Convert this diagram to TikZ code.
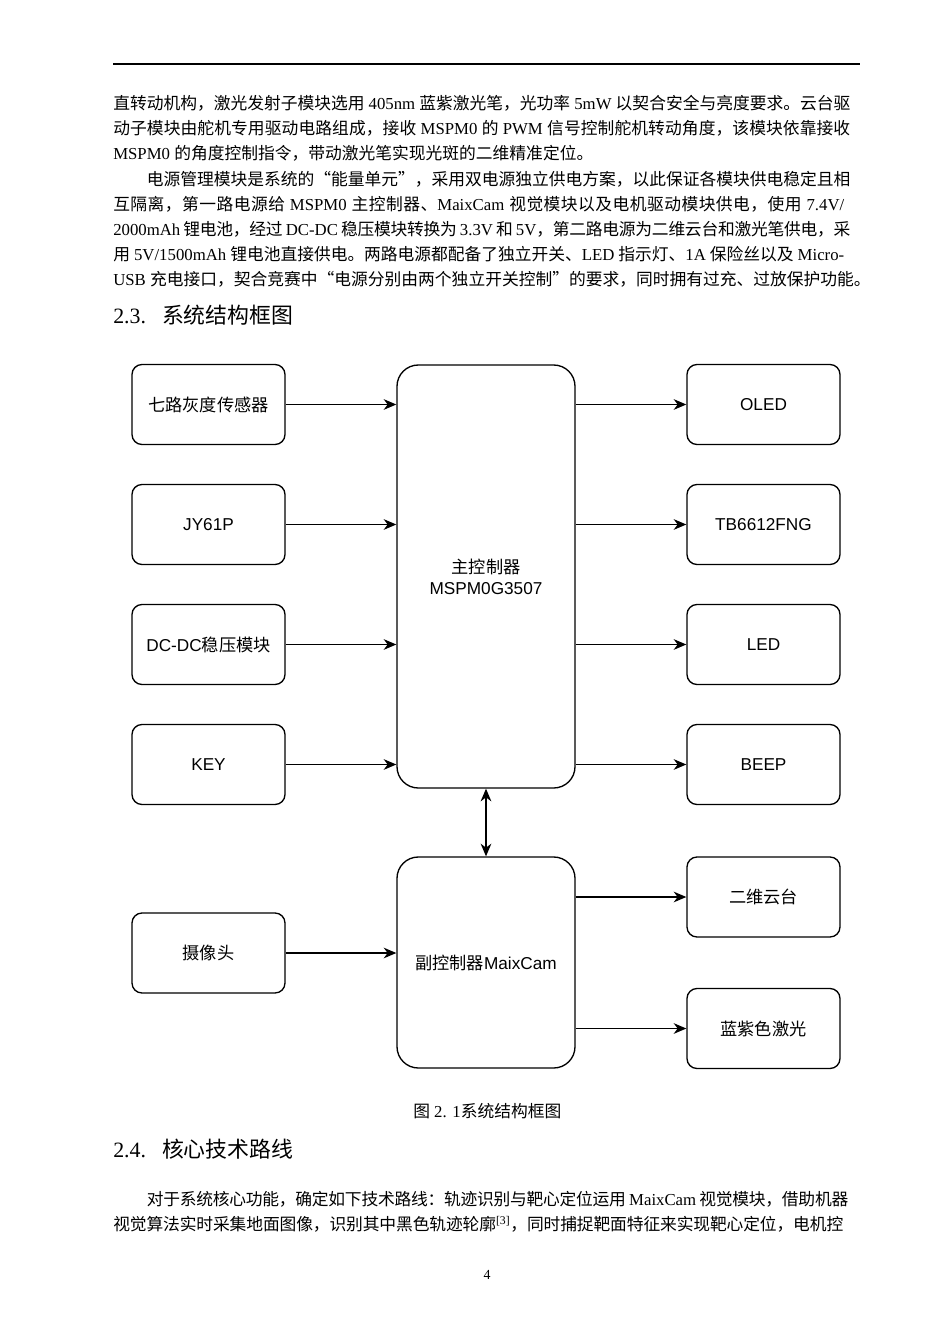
\documentclass[tikz,border=0pt]{standalone}
\usepackage{fontspec}
\setmainfont{Liberation Serif}
\setsansfont{Liberation Sans}
\newfontfamily\cjk{Noto Sans CJK SC}
\usetikzlibrary{arrows.meta}
\newdimen\px \px=0.75pt
\def\latinfont{\rmfamily}
\makeatletter
\newXeTeXintercharclass\CJKcls
\def\setcjkrange#1#2{\count@=#1\relax
  \loop\XeTeXcharclass\count@=\CJKcls\relax
  \ifnum\count@<#2\relax\advance\count@\@ne\repeat}
\setcjkrange{"3000}{"303F}
\setcjkrange{"4E00}{"9FFF}
\setcjkrange{"FF00}{"FFEF}
\XeTeXcharclass"201C=\CJKcls
\XeTeXcharclass"201D=\CJKcls
\makeatother
\XeTeXinterchartokenstate=1
\XeTeXinterchartoks 0 \CJKcls = {\cjk}
\XeTeXinterchartoks 4095 \CJKcls = {\cjk}
\XeTeXinterchartoks \CJKcls 0 = {\latinfont}
\XeTeXinterchartoks \CJKcls 4095 = {\latinfont}
\XeTeXinterchartoks \CJKcls \CJKcls = {\hskip 0pt plus 1pt minus 0.25pt\relax}
\newcommand\bodyfont{\fontsize{12.57pt}{18.75pt}\selectfont\rmfamily}
\newcommand\headfont{\fontsize{16.4pt}{20pt}\selectfont\rmfamily}
\newcommand\difont{\def\latinfont{\sffamily}\sffamily\fontsize{12.9pt}{15.75pt}\selectfont}
\newcommand\jl[4]{\node[anchor=base west, inner sep=0pt] (#1) at (113,#2) {\bodyfont\hbox to #3\px{#4}};}
\newcommand\nl[3]{\node[anchor=base west, inner sep=0pt] (#1) at (113,#2) {\bodyfont #3};}
\tikzset{
  blk/.style={draw, line width=1pt, rounded corners=7.5pt, minimum width=114.75pt,
    minimum height=60pt, inner sep=0pt, font=\difont, align=center},
  ctl/.style={draw, line width=1pt, rounded corners=16pt, minimum width=133.5pt,
    inner sep=0pt, font=\difont, align=center},
  tip/.tip={Stealth[length=9.5pt,width=8pt,inset=3pt]},
  arr/.style={line width=1.05pt, -tip},
  biarr/.style={line width=1.05pt, tip-tip}
}
\begin{document}
\begin{tikzpicture}[x=0.75pt,y=-0.75pt]
\fill[white] (0,0) rectangle (950,1344);
\useasboundingbox (0,0) rectangle (950,1344);
% header rule
\coordinate (ruleL) at (113,64);
\coordinate (ruleR) at (860,64);
\draw[line width=1.5pt] (ruleL) -- (ruleR);
% paragraph 1
\jl{l1}{109.4}{737}{直转动机构，激光发射子模块选用 405nm 蓝紫激光笔，光功率 5mW 以契合安全与亮度要求。云台驱}
\jl{l2}{134.4}{737}{动子模块由舵机专用驱动电路组成，接收 MSPM0 的 PWM 信号控制舵机转动角度，该模块依靠接收}
\nl{l3}{159.4}{MSPM0 的角度控制指令，带动激光笔实现光斑的二维精准定位。}
% paragraph 2
\jl{l4}{185.4}{737}{\hskip2em 电源管理模块是系统的“能量单元”，采用双电源独立供电方案，以此保证各模块供电稳定且相}
\jl{l5}{210.4}{731}{互隔离，第一路电源给 MSPM0 主控制器、MaixCam 视觉模块以及电机驱动模块供电，使用 7.4V/}
\jl{l6}{235.4}{737}{2000mAh 锂电池，经过 DC-DC 稳压模块转换为 3.3V 和 5V，第二路电源为二维云台和激光笔供电，采}
\jl{l7}{260.4}{731}{用 5V/1500mAh 锂电池直接供电。两路电源都配备了独立开关、LED 指示灯、1A 保险丝以及 Micro-}
\nl{l8}{285.4}{USB 充电接口，契合竞赛中“电源分别由两个独立开关控制”的要求，同时拥有过充、过放保护功能。}
% heading 2.3
\node[anchor=base west, inner sep=0pt] (h23) at (113,323) {\headfont 2.3.\hspace{16\px}系统结构框图};
% diagram
\node[ctl, minimum height=317.25pt] (main) at (486,576.5) {主控制器\\MSPM0G3507};
\node[ctl, minimum height=158.25pt] (sub) at (486,962.5) {副控制器MaixCam};
\node[blk] (s1) at (208.5,404.5) {七路灰度传感器};
\node[blk] (s2) at (208.5,524.5) {JY61P};
\node[blk] (s3) at (208.5,644.5) {DC-DC稳压模块};
\node[blk] (s4) at (208.5,764.5) {KEY};
\node[blk] (cam) at (208.5,953) {摄像头};
\node[blk] (o1) at (763.5,404.5) {OLED};
\node[blk] (o2) at (763.5,524.5) {TB6612FNG};
\node[blk] (o3) at (763.5,644.5) {LED};
\node[blk] (o4) at (763.5,764.5) {BEEP};
\node[blk] (o5) at (763.5,897) {二维云台};
\node[blk] (o6) at (763.5,1028.5) {蓝紫色激光};
\foreach \n in {s1,s2,s3,s4} \draw[arr] (\n.east) -- (\n.east -| main.west);
\foreach \n in {o1,o2,o3,o4} \draw[arr] (main.east |- \n.west) -- (\n.west);
\draw[arr] (cam.east) -- (cam.east -| sub.west);
\foreach \n in {o5,o6} \draw[arr] (sub.east |- \n.west) -- (\n.west);
\draw[biarr] (main.south) -- (sub.north);
% caption
\node[anchor=base west, inner sep=0pt] (cap) at (413,1117.4) {\bodyfont 图 2. 1系统结构框图};
% heading 2.4
\node[anchor=base west, inner sep=0pt] (h24) at (113,1157) {\headfont 2.4.\hspace{16\px}核心技术路线};
% paragraph 3
\jl{l9}{1205.4}{735}{\hskip2em 对于系统核心功能，确定如下技术路线：轨迹识别与靶心定位运用 MaixCam 视觉模块，借助机器}
\jl{l10}{1230.4}{730}{视觉算法实时采集地面图像，识别其中黑色轨迹轮廓\textsuperscript{[3]}，同时捕捉靶面特征来实现靶心定位，电机控}
% page number
\node[anchor=base, inner sep=0pt] (pg) at (487,1279.5) {\fontsize{10.4pt}{12pt}\selectfont 4};
\end{tikzpicture}
\end{document}
